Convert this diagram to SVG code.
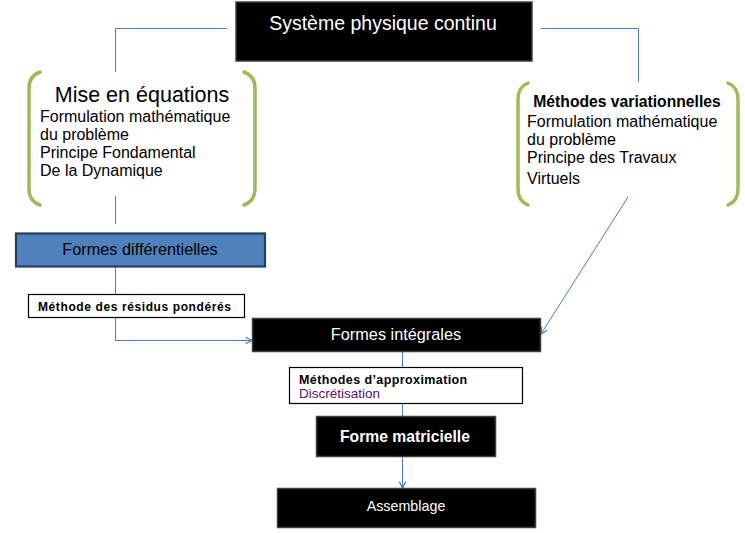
<svg xmlns="http://www.w3.org/2000/svg" width="745" height="533" viewBox="0 0 745 533">
<defs>
<style>
text{font-family:"Liberation Sans",Arial,sans-serif;}
.blk{fill:#000;stroke:#3f3f3f;stroke-width:1.5;}
.wht{fill:#fff;stroke:#000;stroke-width:1.2;}
.brk{fill:none;stroke:#9bbb59;stroke-width:3.5;stroke-linecap:round;}
.conn{fill:none;stroke:#4a7ebb;stroke-width:1;}
.w{fill:#fff;}
.k{fill:#000;}
</style>
<marker id="ah" viewBox="0 0 10 10" refX="9" refY="5" markerWidth="8" markerHeight="8" markerUnits="userSpaceOnUse" orient="auto">
<path d="M1,1 L9,5 L1,9" fill="none" stroke="#4a7ebb" stroke-width="1.6"/>
</marker>
</defs>
<rect width="745" height="533" fill="#fff"/>
<g id="connectors">
<path class="conn" d="M227,28.5 H115.5 V72"/>
<path class="conn" d="M541,28.5 H638.5 V82"/>
<path class="conn" d="M115.5,196 V224"/>
<path class="conn" d="M115.5,267 V294"/>
<path class="conn" d="M115.5,318 V340.5 H252" marker-end="url(#ah)"/>
<path class="conn" d="M628,197 L541,334" marker-end="url(#ah)"/>
<path class="conn" d="M402.5,351 V367"/>
<path class="conn" d="M402.5,404 V417"/>
<path class="conn" d="M402.5,456 V488" marker-end="url(#ah)"/>
</g>
<g id="systeme">
<rect class="blk" x="236" y="2" width="296" height="59"/>
<text class="w" x="383" y="30" font-size="19.5" text-anchor="middle">Système physique continu</text>
</g>
<g id="mise-en-equations">
<path class="brk" d="M40,72 Q29,76 29,88 V189 Q29,201 40,205"/>
<path class="brk" d="M244,72 Q255,76 255,88 V189 Q255,201 244,205"/>
<text class="k" x="142" y="102" font-size="21.5" text-anchor="middle">Mise en équations</text>
<text class="k" font-size="16"><tspan x="40" y="122">Formulation mathématique</tspan><tspan x="40" y="140">du problème</tspan><tspan x="40" y="158">Principe Fondamental</tspan><tspan x="40" y="176">De la Dynamique</tspan></text>
</g>
<g id="methodes-variationnelles">
<path class="brk" d="M528,83 Q518,87 518,99 V189 Q518,201 528,205"/>
<path class="brk" d="M728,83 Q738,87 738,99 V189 Q738,201 728,205"/>
<text class="k" x="627" y="107" font-size="15.7" font-weight="bold" text-anchor="middle">Méthodes variationnelles</text>
<text class="k" font-size="16"><tspan x="527" y="127">Formulation mathématique</tspan><tspan x="527" y="145">du problème</tspan><tspan x="527" y="163">Principe des Travaux</tspan><tspan x="527" y="184">Virtuels</tspan></text>
</g>
<g id="formes-differentielles">
<rect x="16" y="233.5" width="249" height="33" fill="#4f81bd" stroke="#243f60" stroke-width="2.2"/>
<text class="k" x="140" y="255" font-size="16.3" text-anchor="middle">Formes différentielles</text>
</g>
<g id="residus">
<rect class="wht" x="28.5" y="294.5" width="216" height="23"/>
<text class="k" x="38" y="311" font-size="12" font-weight="bold" letter-spacing="0.6">Méthode des résidus pondérés</text>
</g>
<g id="formes-integrales">
<rect class="blk" x="252.5" y="318.5" width="288" height="33"/>
<text class="w" x="396" y="340" font-size="16.3" text-anchor="middle">Formes intégrales</text>
</g>
<g id="approximation">
<rect class="wht" x="289.5" y="367.5" width="233" height="36"/>
<text class="k" x="299" y="384" font-size="12.5" font-weight="bold" letter-spacing="0.4">Méthodes d’approximation</text>
<text x="299" y="398" font-size="13.5" fill="#5a1070">Discrétisation</text>
</g>
<g id="forme-matricielle">
<rect class="blk" x="316.5" y="416.5" width="179" height="40"/>
<text class="w" x="405" y="442" font-size="15.7" font-weight="bold" text-anchor="middle">Forme matricielle</text>
</g>
<g id="assemblage">
<rect class="blk" x="277.5" y="488.5" width="258" height="39"/>
<text class="w" x="406" y="511" font-size="14.3" text-anchor="middle">Assemblage</text>
</g>
</svg>
